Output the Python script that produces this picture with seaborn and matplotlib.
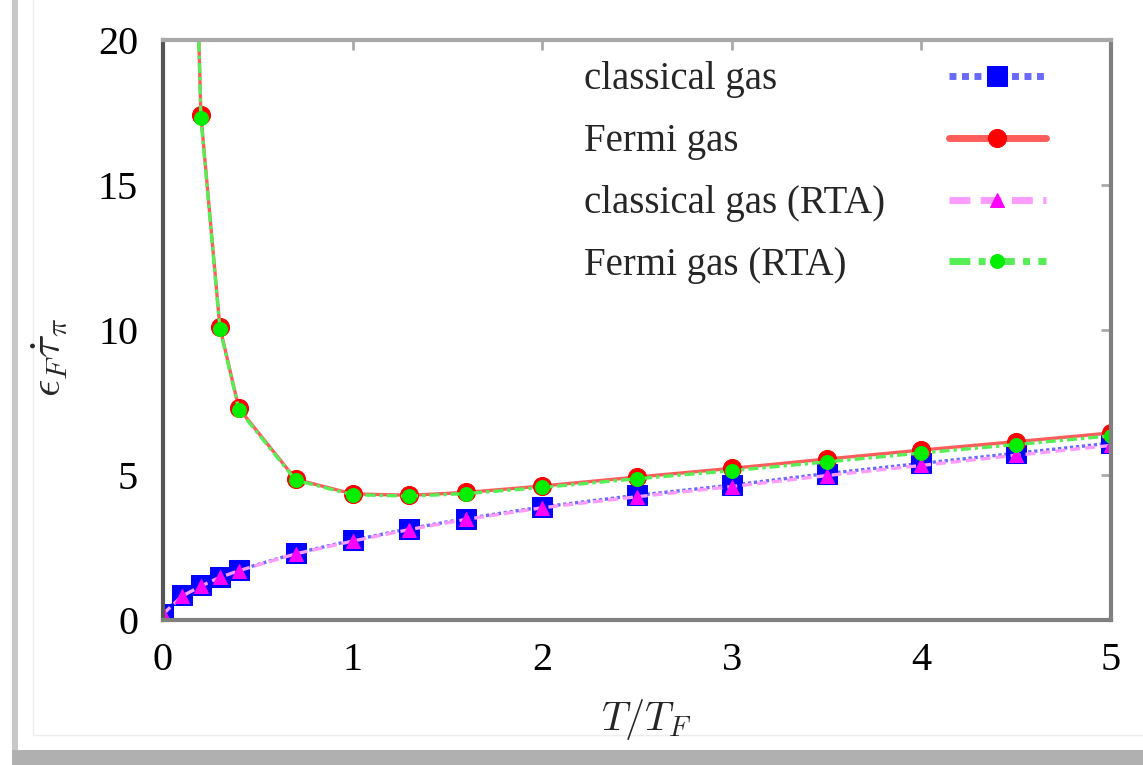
import numpy as np
import pandas as pd
import seaborn as sns
import matplotlib
matplotlib.use("Agg")
import matplotlib.pyplot as plt
from matplotlib.patches import Rectangle

# ---------------- data ----------------
T_classical = [0, 0.1, 0.2, 0.3, 0.4, 0.7, 1.0, 1.3, 1.6, 2.0, 2.5, 3.0, 3.5, 4.0, 4.5, 5.0]
classical = [0.22, 0.85, 1.20, 1.50, 1.72, 2.30, 2.75, 3.15, 3.50, 3.90, 4.30, 4.65, 5.05, 5.40, 5.75, 6.10]
classical_rta = [0.20, 0.82, 1.17, 1.47, 1.70, 2.28, 2.72, 3.12, 3.47, 3.87, 4.25, 4.60, 4.98, 5.33, 5.68, 6.02]

T_fermi = [0.1, 0.2, 0.3, 0.4, 0.7, 1.0, 1.3, 1.6, 2.0, 2.5, 3.0, 3.5, 4.0, 4.5, 5.0]
fermi = [41.0, 17.4, 10.1, 7.3, 4.85, 4.35, 4.30, 4.40, 4.62, 4.93, 5.23, 5.55, 5.86, 6.15, 6.45]
fermi_rta = [41.0, 17.3, 10.05, 7.25, 4.82, 4.32, 4.27, 4.36, 4.57, 4.87, 5.15, 5.45, 5.76, 6.05, 6.35]

labels = ["classical gas", "Fermi gas", "classical gas (RTA)", "Fermi gas (RTA)"]
x_ticks = [0, 1, 2, 3, 4, 5]
y_ticks = [0, 5, 10, 15, 20]

# ---------------- style ----------------
sns.set_theme(style="white")
plt.rcParams["font.family"] = ["Liberation Serif", "DejaVu Serif"]
plt.rcParams["mathtext.fontset"] = "cm"

fig = plt.figure(figsize=(11.43, 7.65), dpi=100)
fig.patch.set_facecolor("white")
ax = fig.add_axes([163 / 1143, 1 - 620 / 765, (1111 - 163) / 1143, (620 - 40) / 765])

df_c = pd.DataFrame({"T": T_classical, "cl": classical, "clr": classical_rta})
df_f = pd.DataFrame({"T": T_fermi, "f": fermi, "fr": fermi_rta})

sns.lineplot(data=df_c, x="T", y="cl", ax=ax, color="#6a6aff", linestyle=(0, (1.0, 0.8)),
             linewidth=2.4, marker="s", markersize=14, markerfacecolor="#0000ff",
             markeredgecolor="#0000ff", label=labels[0])
sns.lineplot(data=df_f, x="T", y="f", ax=ax, color="#ff5c5c", linestyle="-",
             linewidth=2.4, marker="o", markersize=13, markerfacecolor="#ff0000",
             markeredgecolor="#ff0000", label=labels[1])
sns.lineplot(data=df_c, x="T", y="clr", ax=ax, color="#ff9cff", linestyle=(0, (3, 1.5)),
             linewidth=2.4, marker="^", markersize=10, markerfacecolor="#ff00ff",
             markeredgecolor="#ff00ff", label=labels[2])
sns.lineplot(data=df_f, x="T", y="fr", ax=ax, color="#55ee55", linestyle=(0, (3, 1.2, 1, 1.2)),
             linewidth=2.4, marker="o", markersize=10, markerfacecolor="#00ee00",
             markeredgecolor="#00ee00", label=labels[3])

ax.set_xlim(0, 5)
ax.set_ylim(0, 20)
ax.set_xticks(x_ticks)
ax.set_yticks(y_ticks)
ax.set_xticklabels([str(v) for v in x_ticks])
ax.set_yticklabels([str(v) for v in y_ticks])

ax.tick_params(axis="both", which="major", direction="in", length=7, width=2,
               color="#aaaaaa", labelsize=29, labelcolor="black",
               top=True, right=True)
ax.tick_params(axis="x", pad=16)
ax.tick_params(axis="y", pad=18)

for name, sp in ax.spines.items():
    sp.set_visible(True)
    sp.set_linewidth(3)
    sp.set_color("#808080")
ax.spines["left"].set_color("#555555")
ax.spines["top"].set_color("#a8a8a8")

ax.set_xlabel(r"$T/T_F$", fontsize=29)
ax.set_ylabel(r"$\epsilon_F\dot{\tau}_\pi$", fontsize=31)
ax.xaxis.set_label_coords(0.51, -0.172)
ax.xaxis.label.set_va("center")
ax.yaxis.set_label_coords(-0.119, 0.453)
ax.yaxis.label.set_va("center")

leg = ax.legend(loc="upper right", bbox_to_anchor=(0.96, 1.01), frameon=False,
                markerfirst=False, fontsize=28, handlelength=2.5, handletextpad=1.63,
                labelspacing=0.64, borderpad=0.2)
for ln in leg.get_lines():
    ln.set_linewidth(5)

# left-align legend texts while keeping handles right-aligned
fig.canvas.draw()
r = fig.canvas.get_renderer()
widths = [t.get_window_extent(r).width for t in leg.get_texts()]
maxw = max(widths)
try:
    col = leg._legend_handle_box.get_children()[0]
    for row, w in zip(col.get_children(), widths):
        row.sep += (maxw - w) * 72.0 / fig.dpi
except Exception:
    pass

# card frame decoration
fig.add_artist(Rectangle((12 / 1143, 0), 6 / 1143, 1, transform=fig.transFigure,
                         facecolor="#c8c8c8", edgecolor="none", zorder=0))
fig.add_artist(Rectangle((12 / 1143, 0), 1, 15 / 765, transform=fig.transFigure,
                         facecolor="#b0b0b0", edgecolor="none", zorder=0))
fig.add_artist(Rectangle((33 / 1143, 30 / 765), 1, 1, transform=fig.transFigure,
                         facecolor="none", edgecolor="#eeeeee", linewidth=1, zorder=0))

fig.savefig("out.png", dpi=100)
